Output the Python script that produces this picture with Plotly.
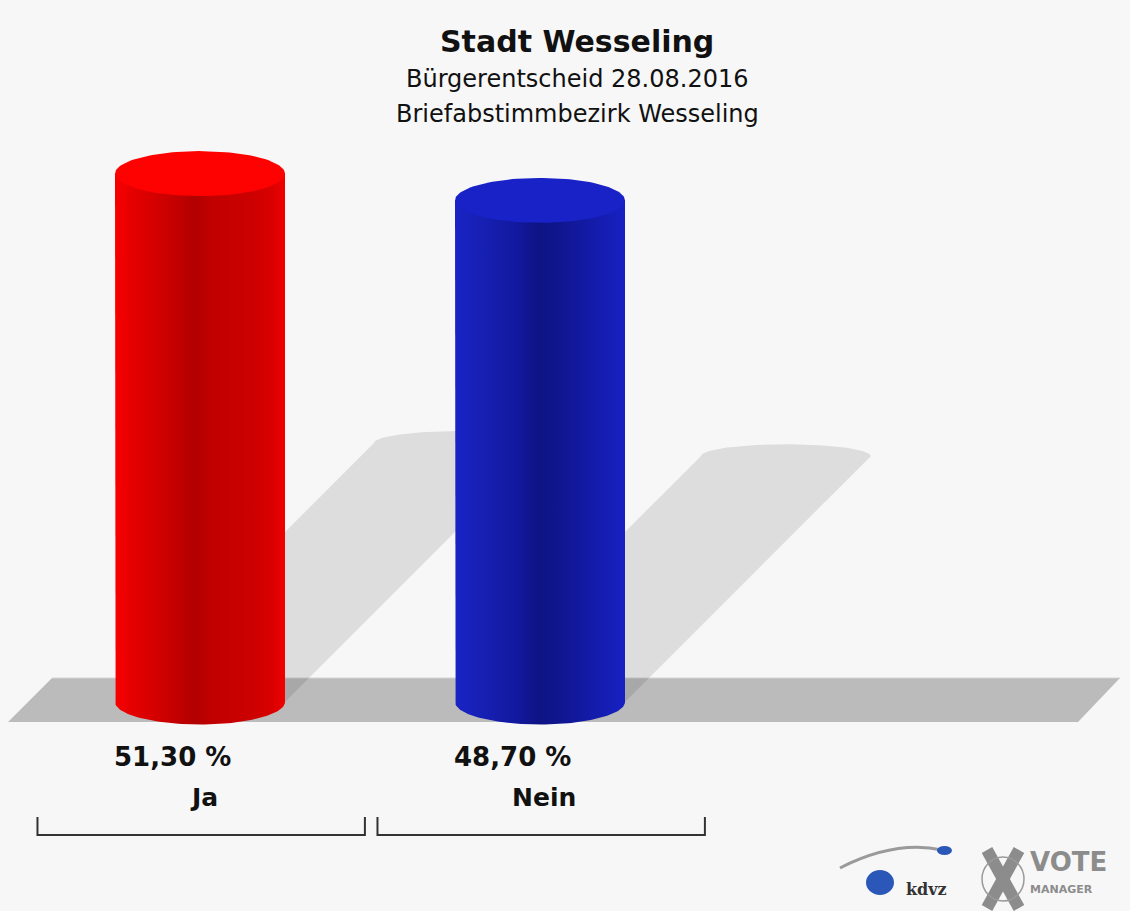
import numpy as np
import plotly.graph_objects as go

# ---------------- data ----------------
categories = ["Ja", "Nein"]
values = [51.30, 48.70]
value_labels = ["51,30 %", "48,70 %"]
title_text = "Stadt Wesseling"
subtitle_lines = ["Bürgerentscheid 28.08.2016", "Briefabstimmbezirk Wesseling"]

# ---------------- styles ----------------
body_scales = [
    [[0, '#f80000'], [0.1, '#e60000'], [0.3, '#cc0000'], [0.47, '#b20000'],
     [0.58, '#c20000'], [0.8, '#cc0000'], [0.93, '#da0000'], [1, '#f20000']],
    [[0, '#1a24c6'], [0.15, '#1620b4'], [0.35, '#1219a0'], [0.5, '#0e1384'],
     [0.62, '#10168f'], [0.8, '#131ba8'], [1, '#1721c2']],
]
top_colors = ['#fe0202', '#1822c6']
BG = '#f7f7f7'
FONT = 'DejaVu Sans'

W, H = 1130, 911
PX_X, PX_Y = 340.0, 10.3      # pixels per axis unit
X0_PX, Y0_PX = 200.0, 702.0   # pixel of the axis origin
A = 85.0 / PX_X               # cylinder half width (x units)
B = 22.5 / PX_Y               # ellipse half height (y units)
SH_K = 0.49                   # shadow height ratio
SH_S = PX_Y / PX_X            # 45 degree shear
SH_B = 12.0 / PX_Y

def px2x(p):
    return (p - X0_PX) / PX_X

def px2y(p):
    return (Y0_PX - p) / PX_Y

fig = go.Figure()

# floor
fl_x = [px2x(8), px2x(52), px2x(1120), px2x(1078), px2x(8)]
fl_y = [px2y(722), px2y(678), px2y(678), px2y(722), px2y(722)]
fig.add_trace(go.Scatter(x=fl_x, y=fl_y, fill='toself', fillcolor='#bbbbbb',
                         mode='lines', line=dict(width=0), hoverinfo='skip'))
fig.add_trace(go.Scatter(x=fl_x[1:3], y=fl_y[1:3], mode='lines',
                         line=dict(width=1, color='#d4d4d4'), hoverinfo='skip'))

t_top = np.linspace(0, np.pi, 60)
t_bot = np.linspace(np.pi, 2 * np.pi, 80)
t_full = np.linspace(0, 2 * np.pi, 120)

# shadows
for i, v in enumerate(values):
    c = i
    h = v * SH_K
    sx = SH_S * h
    xs = [c - A, c + A]
    ys = [0, 0]
    xs += list(c + sx + A * np.cos(t_top))
    ys += list(h + SH_B * np.sin(t_top))
    xs += [c - A]
    ys += [0]
    fig.add_trace(go.Scatter(x=xs, y=ys, fill='toself', fillcolor='rgba(0,0,0,0.10)',
                             mode='lines', line=dict(width=0), hoverinfo='skip'))

# cylinder bodies
for i, v in enumerate(values):
    c = i
    xs = [c - A, c - A]
    ys = [v, 0]
    xs += list(c + A * np.cos(t_bot))
    ys += list(B * np.sin(t_bot))
    xs += [c + A, c - A]
    ys += [v, v]
    fig.add_trace(go.Scatter(
        x=xs, y=ys, fill='toself', mode='lines', line=dict(width=0),
        fillgradient=dict(type='horizontal', colorscale=body_scales[i]),
        name=categories[i], hovertemplate=f"{categories[i]}: {value_labels[i]}<extra></extra>"))
    # top ellipse
    fig.add_trace(go.Scatter(
        x=list(c + A * np.cos(t_full)), y=list(v + B * np.sin(t_full)),
        fill='toself', fillcolor=top_colors[i], mode='lines', line=dict(width=0),
        hoverinfo='skip'))

annotations = []
# value labels, category labels
for i, v in enumerate(values):
    annotations.append(dict(x=i + px2x(172) - px2x(200), y=px2y(757), xref='x', yref='y',
                            text=value_labels[i], showarrow=False,
                            xanchor='center', yanchor='middle',
                            font=dict(family=FONT, size=26, color='#111111', weight='bold')))
    annotations.append(dict(x=i + px2x(204) - px2x(200), y=px2y(797), xref='x', yref='y',
                            text=categories[i], showarrow=False,
                            xanchor='center', yanchor='middle',
                            font=dict(family=FONT, size=25, color='#111111', weight='bold')))
    # bracket
    bl, br = i - 0.478, i + 0.485
    fig.add_trace(go.Scatter(x=[bl, bl, br, br], y=[px2y(817), px2y(835), px2y(835), px2y(817)],
                             mode='lines', line=dict(width=2, color='#333333'),
                             hoverinfo='skip'))

# titles
annotations.append(dict(x=577 / W, y=1 - 42 / H, xref='paper', yref='paper', text=title_text,
                        showarrow=False, xanchor='center', yanchor='middle',
                        font=dict(family=FONT, size=30, color='#111111', weight='bold')))
for j, line in enumerate(subtitle_lines):
    annotations.append(dict(x=577 / W, y=1 - (79 + 35 * j) / H, xref='paper', yref='paper',
                            text=line, showarrow=False, xanchor='center', yanchor='middle',
                            font=dict(family=FONT, size=24, color='#111111')))

# logo (decorative)
def P(x, y):
    return x / W, 1 - y / H

shapes = []
x1, y1 = P(840, 868); x2, y2 = P(895, 840); x3, y3 = P(942, 850)
shapes.append(dict(type='path', xref='paper', yref='paper',
                   path=f"M {x1},{y1} Q {x2},{y2} {x3},{y3}",
                   line=dict(color='#9a9a9a', width=3)))
cx0, cy0 = P(866, 870); cx1, cy1 = P(894, 895)
shapes.append(dict(type='circle', xref='paper', yref='paper', x0=cx0, y0=cy1, x1=cx1, y1=cy0,
                   fillcolor='#2b58b8', line=dict(width=0)))
cx0, cy0 = P(937, 846); cx1, cy1 = P(952, 855)
shapes.append(dict(type='circle', xref='paper', yref='paper', x0=cx0, y0=cy1, x1=cx1, y1=cy0,
                   fillcolor='#2b58b8', line=dict(width=0)))
for (a1, b1, a2, b2) in [(987, 850, 1019, 908), (1019, 850, 987, 908)]:
    p1, q1 = P(a1, b1); p2, q2 = P(a2, b2)
    shapes.append(dict(type='line', xref='paper', yref='paper', x0=p1, y0=q1, x1=p2, y1=q2,
                       line=dict(color='#8c8c8c', width=12)))
cx0, cy0 = P(982, 857); cx1, cy1 = P(1024, 901)
shapes.append(dict(type='circle', xref='paper', yref='paper', x0=cx0, y0=cy1, x1=cx1, y1=cy0,
                   line=dict(color='#9a9a9a', width=1.5)))
annotations.append(dict(x=904 / W, y=1 - 889 / H, xref='paper', yref='paper', text='kdvz',
                        xanchor='left', yanchor='middle', showarrow=False,
                        font=dict(family='DejaVu Serif', size=16, color='#333333', weight='bold')))
annotations.append(dict(x=1028 / W, y=1 - 862 / H, xref='paper', yref='paper', text='VOTE',
                        xanchor='left', yanchor='middle', showarrow=False,
                        font=dict(family=FONT, size=26, color='#8c8c8c', weight='bold')))
annotations.append(dict(x=1028 / W, y=1 - 889 / H, xref='paper', yref='paper', text='MANAGER',
                        xanchor='left', yanchor='middle', showarrow=False,
                        font=dict(family=FONT, size=11, color='#8c8c8c', weight='bold')))

fig.update_layout(
    width=W, height=H, autosize=False,
    margin=dict(l=0, r=0, t=0, b=0),
    paper_bgcolor=BG, plot_bgcolor=BG,
    showlegend=False,
    xaxis=dict(range=[px2x(0), px2x(W)], visible=False, fixedrange=True),
    yaxis=dict(range=[px2y(H), px2y(0)], visible=False, fixedrange=True),
    annotations=annotations, shapes=shapes,
)

fig.write_html("out.html", config={'displayModeBar': False},
               post_script="document.body.style.margin='0px';document.body.style.overflow='hidden';")
